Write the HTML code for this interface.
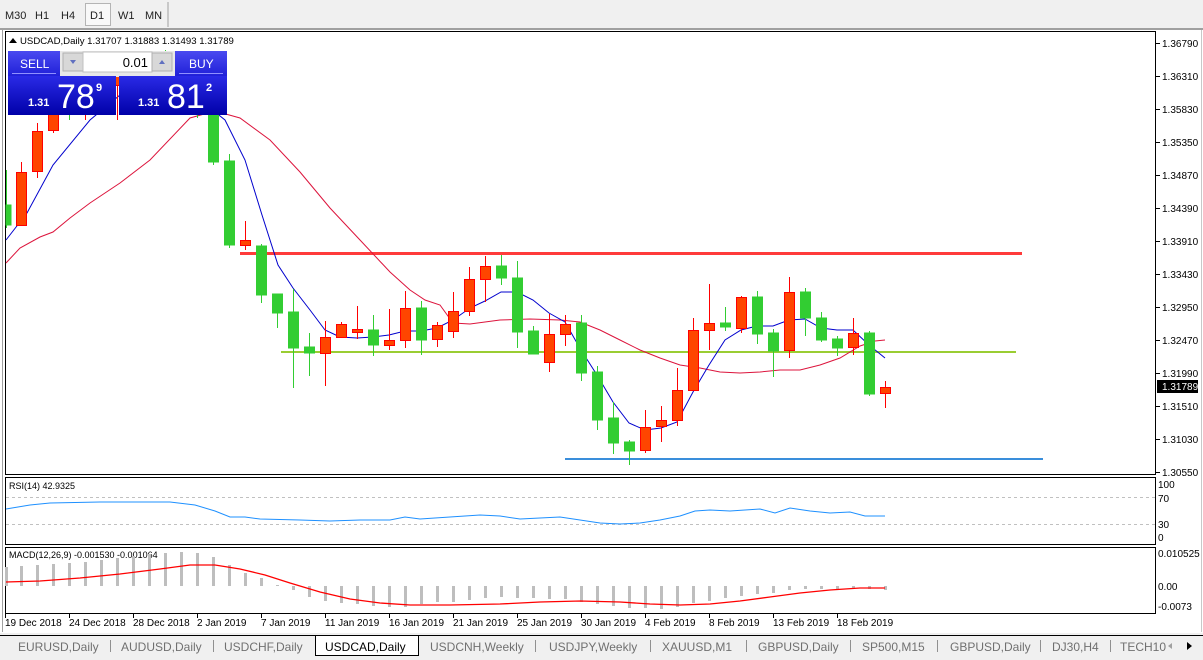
<!DOCTYPE html>
<html><head><meta charset="utf-8"><style>
body{margin:0;width:1203px;height:660px;overflow:hidden;background:#fff;font-family:"Liberation Sans",sans-serif;}
svg{position:absolute;left:0;top:0}
</style></head><body>
<svg width="1203" height="660" xmlns="http://www.w3.org/2000/svg" font-family="Liberation Sans, sans-serif">
<rect x="0" y="0" width="1203" height="660" fill="#fff"/>
<rect x="0" y="0" width="1203" height="29" fill="#F0F0F0"/>
<rect x="0" y="28" width="1203" height="2" fill="#A0A0A0"/>
<line x1="168" y1="2" x2="168" y2="27" stroke="#A0A0A0"/>
<rect x="85.5" y="3.5" width="25" height="22" fill="#F8F8F8" stroke="#B4B4B4"/>
<g font-size="11" fill="#222">
<text x="5" y="19">M30</text><text x="35" y="19">H1</text><text x="61" y="19">H4</text>
<text x="90" y="19">D1</text><text x="118" y="19">W1</text><text x="145" y="19">MN</text></g>
<line x1="1201.5" y1="30" x2="1201.5" y2="632" stroke="#C8C8C8"/>
<line x1="2.5" y1="30" x2="2.5" y2="632" stroke="#A0A0A0"/>
<rect x="5.5" y="31.5" width="1150" height="443" fill="#fff" stroke="#000"/>
<rect x="5.5" y="477.5" width="1150" height="67" fill="#fff" stroke="#000"/>
<rect x="5.5" y="547.5" width="1150" height="66" fill="#fff" stroke="#000"/>
<g font-size="10" fill="#000">
<text x="1162" y="47">1.36790</text><text x="1162" y="80">1.36310</text><text x="1162" y="113">1.35830</text>
<text x="1162" y="146">1.35350</text><text x="1162" y="179">1.34870</text><text x="1162" y="212">1.34390</text>
<text x="1162" y="245">1.33910</text><text x="1162" y="278">1.33430</text><text x="1162" y="311">1.32950</text>
<text x="1162" y="344">1.32470</text><text x="1162" y="377">1.31990</text><text x="1162" y="410">1.31510</text>
<text x="1162" y="443">1.31030</text><text x="1162" y="476">1.30550</text>
</g>
<g stroke="#000"><line x1="1156" y1="43.5" x2="1160" y2="43.5"/><line x1="1156" y1="76.5" x2="1160" y2="76.5"/><line x1="1156" y1="109.5" x2="1160" y2="109.5"/><line x1="1156" y1="142.5" x2="1160" y2="142.5"/><line x1="1156" y1="175.5" x2="1160" y2="175.5"/><line x1="1156" y1="208.5" x2="1160" y2="208.5"/><line x1="1156" y1="241.5" x2="1160" y2="241.5"/><line x1="1156" y1="274.5" x2="1160" y2="274.5"/><line x1="1156" y1="307.5" x2="1160" y2="307.5"/><line x1="1156" y1="340.5" x2="1160" y2="340.5"/><line x1="1156" y1="373.5" x2="1160" y2="373.5"/><line x1="1156" y1="406.5" x2="1160" y2="406.5"/><line x1="1156" y1="439.5" x2="1160" y2="439.5"/><line x1="1156" y1="472.5" x2="1160" y2="472.5"/></g>
<rect x="1157" y="380" width="41" height="13" fill="#000"/>
<text x="1162" y="390" font-size="10" fill="#fff">1.31789</text>
<g font-size="10" fill="#000">
<text x="1158" y="488">100</text><text x="1158" y="502">70</text><text x="1158" y="528">30</text><text x="1158" y="541">0</text>
<text x="1158" y="557">0.010525</text><text x="1158" y="590">0.00</text><text x="1158" y="610">-0.0073</text></g>
<line x1="240" y1="253.5" x2="1022" y2="253.5" stroke="#FF3B3B" stroke-width="3"/>
<line x1="281" y1="352" x2="1016" y2="352" stroke="#9ACD32" stroke-width="2"/>
<line x1="565" y1="459" x2="1043" y2="459" stroke="#3A8EDB" stroke-width="2"/>
<polyline fill="none" stroke="#DC143C" stroke-width="1" points="6,263 20,248 40,237 53,232 70,218 90,203 120,183 150,160 190,118 215,111 240,118 270,140 300,172 330,208 360,240 390,272 410,290 425,300 440,305 453,323 470,324 500,320 530,319 560,320 580,322 600,330 620,340 640,350 660,358 680,365 700,368 720,372 740,373 760,372 780,370 800,370 820,365 840,358 860,346 875,341 885,340"/>
<polyline fill="none" stroke="#0000CD" stroke-width="1" points="6,240 27,213 53,165 90,120 120,95 160,90 200,100 225,120 245,160 262,215 278,265 293,288 310,310 325,330 340,337 357,338 373,337 389,335 405,331 421,331 437,328 453,320 470,308 485,301 501,292 517,292 533,300 549,313 565,322 581,350 597,375 613,402 629,423 645,430 661,428 677,422 693,392 709,365 725,340 741,330 757,326 773,326 789,320 805,319 821,328 837,330 853,330 869,345 885,358"/>
<g>
<g stroke="#32CD32" fill="#32CD32">
<line x1="6.5" y1="170" x2="6.5" y2="228"/><rect x="6" y="205" width="5" height="20"/>
<line x1="69.5" y1="90" x2="69.5" y2="120"/><rect x="64.5" y="95" width="10" height="17"/>
<line x1="133.5" y1="60" x2="133.5" y2="90"/><rect x="128.5" y="65" width="10" height="15"/>
<line x1="165.5" y1="50" x2="165.5" y2="85"/><rect x="160.5" y="58" width="10" height="14"/>
<line x1="197.5" y1="55" x2="197.5" y2="118"/><rect x="192.5" y="62" width="10" height="33"/>
<line x1="213.5" y1="60" x2="213.5" y2="165"/><rect x="208.5" y="95" width="10" height="67"/>
<line x1="229.5" y1="154" x2="229.5" y2="248"/><rect x="224.5" y="161" width="10" height="84"/>
<line x1="261.5" y1="244" x2="261.5" y2="303"/><rect x="256.5" y="246" width="10" height="49"/>
<line x1="277.5" y1="294" x2="277.5" y2="328"/><rect x="272.5" y="294" width="10" height="19"/>
<line x1="293.5" y1="289" x2="293.5" y2="388"/><rect x="288.5" y="312" width="10" height="36"/>
<line x1="309.5" y1="333" x2="309.5" y2="376"/><rect x="304.5" y="347" width="10" height="6"/>
<line x1="373.5" y1="315" x2="373.5" y2="356"/><rect x="368.5" y="330" width="10" height="15"/>
<line x1="421.5" y1="301" x2="421.5" y2="355"/><rect x="416.5" y="308" width="10" height="32"/>
<line x1="501.5" y1="255" x2="501.5" y2="285"/><rect x="496.5" y="266" width="10" height="12"/>
<line x1="517.5" y1="261" x2="517.5" y2="348"/><rect x="512.5" y="278" width="10" height="54"/>
<line x1="533.5" y1="326" x2="533.5" y2="354"/><rect x="528.5" y="331" width="10" height="23"/>
<line x1="581.5" y1="315" x2="581.5" y2="381"/><rect x="576.5" y="323" width="10" height="50"/>
<line x1="597.5" y1="366" x2="597.5" y2="430"/><rect x="592.5" y="372" width="10" height="48"/>
<line x1="613.5" y1="402" x2="613.5" y2="454"/><rect x="608.5" y="418" width="10" height="25"/>
<line x1="629.5" y1="440" x2="629.5" y2="465"/><rect x="624.5" y="442" width="10" height="9"/>
<line x1="725.5" y1="307" x2="725.5" y2="331"/><rect x="720.5" y="323" width="10" height="4"/>
<line x1="757.5" y1="291" x2="757.5" y2="344"/><rect x="752.5" y="297" width="10" height="37"/>
<line x1="773.5" y1="329" x2="773.5" y2="377"/><rect x="768.5" y="333" width="10" height="18"/>
<line x1="805.5" y1="288" x2="805.5" y2="336"/><rect x="800.5" y="292" width="10" height="26"/>
<line x1="821.5" y1="312" x2="821.5" y2="342"/><rect x="816.5" y="318" width="10" height="22"/>
<line x1="837.5" y1="336" x2="837.5" y2="356"/><rect x="832.5" y="339" width="10" height="9"/>
<line x1="869.5" y1="331" x2="869.5" y2="396"/><rect x="864.5" y="333" width="10" height="61"/>
</g>
<g stroke="#FF0000" fill="#FF4500">
<line x1="21.5" y1="162" x2="21.5" y2="226"/><rect x="16.5" y="172.5" width="10" height="53"/>
<line x1="37.5" y1="123" x2="37.5" y2="178"/><rect x="32.5" y="131.5" width="10" height="40"/>
<line x1="53.5" y1="95" x2="53.5" y2="133"/><rect x="48.5" y="100.5" width="10" height="30"/>
<line x1="85.5" y1="80" x2="85.5" y2="120"/><rect x="80.5" y="85.5" width="10" height="13"/>
<line x1="101.5" y1="70" x2="101.5" y2="100"/><rect x="96.5" y="75.5" width="10" height="15"/>
<line x1="117.5" y1="65" x2="117.5" y2="120"/><rect x="112.5" y="70.5" width="10" height="15"/>
<line x1="149.5" y1="55" x2="149.5" y2="88"/><rect x="144.5" y="62.5" width="10" height="16"/>
<line x1="181.5" y1="52" x2="181.5" y2="90"/><rect x="176.5" y="60.5" width="10" height="15"/>
<line x1="245.5" y1="221" x2="245.5" y2="250"/><rect x="240.5" y="240.5" width="10" height="5"/>
<line x1="325.5" y1="321" x2="325.5" y2="386"/><rect x="320.5" y="337.5" width="10" height="16"/>
<line x1="341.5" y1="322" x2="341.5" y2="338"/><rect x="336.5" y="324.5" width="10" height="13"/>
<line x1="357.5" y1="306" x2="357.5" y2="339"/><rect x="352.5" y="329.5" width="10" height="3"/>
<line x1="389.5" y1="309" x2="389.5" y2="350"/><rect x="384.5" y="340.5" width="10" height="5"/>
<line x1="405.5" y1="291" x2="405.5" y2="348"/><rect x="400.5" y="308.5" width="10" height="32"/>
<line x1="437.5" y1="322" x2="437.5" y2="347"/><rect x="432.5" y="325.5" width="10" height="14"/>
<line x1="453.5" y1="292" x2="453.5" y2="338"/><rect x="448.5" y="311.5" width="10" height="20"/>
<line x1="469.5" y1="267" x2="469.5" y2="316"/><rect x="464.5" y="279.5" width="10" height="32"/>
<line x1="485.5" y1="256" x2="485.5" y2="302"/><rect x="480.5" y="266.5" width="10" height="13"/>
<line x1="549.5" y1="314" x2="549.5" y2="372"/><rect x="544.5" y="334.5" width="10" height="28"/>
<line x1="565.5" y1="315" x2="565.5" y2="346"/><rect x="560.5" y="324.5" width="10" height="10"/>
<line x1="645.5" y1="410" x2="645.5" y2="453"/><rect x="640.5" y="427.5" width="10" height="23"/>
<line x1="661.5" y1="406" x2="661.5" y2="442"/><rect x="656.5" y="420.5" width="10" height="6"/>
<line x1="677.5" y1="368" x2="677.5" y2="426"/><rect x="672.5" y="390.5" width="10" height="30"/>
<line x1="693.5" y1="318" x2="693.5" y2="391"/><rect x="688.5" y="330.5" width="10" height="60"/>
<line x1="709.5" y1="284" x2="709.5" y2="350"/><rect x="704.5" y="323.5" width="10" height="7"/>
<line x1="741.5" y1="296" x2="741.5" y2="333"/><rect x="736.5" y="297.5" width="10" height="31"/>
<line x1="789.5" y1="277" x2="789.5" y2="358"/><rect x="784.5" y="292.5" width="10" height="58"/>
<line x1="853.5" y1="318" x2="853.5" y2="355"/><rect x="848.5" y="333.5" width="10" height="14"/>
<line x1="885.5" y1="381" x2="885.5" y2="408"/><rect x="880.5" y="387.5" width="10" height="6"/>
</g></g>
<path d="M9 43 L13 38 L17 43 Z" fill="#000"/>
<text x="20" y="44" font-size="9.6" fill="#000">USDCAD,Daily  1.31707 1.31883 1.31493 1.31789</text>
<defs><linearGradient id="bl" x1="0" y1="0" x2="0" y2="1"><stop offset="0" stop-color="#2A2AE6"/><stop offset="1" stop-color="#0000A8"/></linearGradient>
<linearGradient id="bs" x1="0" y1="0" x2="0" y2="1"><stop offset="0" stop-color="#4A4AF0"/><stop offset="1" stop-color="#2020D8"/></linearGradient></defs>
<rect x="8" y="51" width="52" height="25" fill="url(#bs)"/>
<rect x="175" y="51" width="52" height="25" fill="url(#bs)"/>
<line x1="12" y1="73.5" x2="56" y2="73.5" stroke="#9090FF"/><line x1="179" y1="73.5" x2="223" y2="73.5" stroke="#9090FF"/>
<rect x="60" y="51" width="115" height="26" fill="#E8E8E8"/>
<rect x="63" y="53" width="20" height="18" fill="#D8D8D8" stroke="#B0B0B0"/>
<rect x="83" y="52" width="69" height="20" fill="#fff" stroke="#C0C0C0"/>
<rect x="152" y="53" width="20" height="18" fill="#D8D8D8" stroke="#B0B0B0"/>
<path d="M70 60 L76 60 L73 64 Z" fill="#6070C0"/><path d="M159 64 L165 64 L162 60 Z" fill="#6070C0"/>
<text x="148" y="67" font-size="13" fill="#000" text-anchor="end">0.01</text>
<text x="20" y="68" font-size="12" fill="#fff">SELL</text>
<text x="189" y="68" font-size="12" fill="#fff">BUY</text>
<rect x="8" y="76" width="108" height="39" fill="url(#bl)"/>
<rect x="119" y="76" width="108" height="39" fill="url(#bl)"/>
<text x="28" y="106" font-size="11" font-weight="bold" fill="#fff">1.31</text>
<text x="57" y="108" font-size="34" fill="#fff">78</text>
<text x="96" y="91" font-size="11" font-weight="bold" fill="#fff">9</text>
<text x="138" y="106" font-size="11" font-weight="bold" fill="#fff">1.31</text>
<text x="167" y="108" font-size="34" fill="#fff">81</text>
<text x="206" y="91" font-size="11" font-weight="bold" fill="#fff">2</text>
<line x1="6" y1="497.5" x2="1155" y2="497.5" stroke="#C0C0C0" stroke-dasharray="3,3"/>
<line x1="6" y1="524.5" x2="1155" y2="524.5" stroke="#C0C0C0" stroke-dasharray="3,3"/>
<text x="9" y="489" font-size="9" fill="#000">RSI(14) 42.9325</text>
<polyline fill="none" stroke="#1E90FF" points="6,509 30,505 50,503 100,502 170,502 195,505 215,511 230,517 245,517 260,519 300,520 330,521 360,520 390,520 405,517 420,519 450,517 480,515 500,516 520,519 540,518 560,517 580,520 600,523 620,524 640,523 660,520 680,516 695,511 710,510 730,511 745,510 760,509 775,513 790,508 810,511 830,513 850,512 865,516 885,516"/>
<text x="9" y="558" font-size="9" fill="#000">MACD(12,26,9) -0.001530 -0.001064</text>
<g stroke="#BEBEBE" stroke-width="3">
<line x1="6.5" y1="586" x2="6.5" y2="567"/><line x1="21.5" y1="586" x2="21.5" y2="566"/><line x1="37.5" y1="586" x2="37.5" y2="565"/><line x1="53.5" y1="586" x2="53.5" y2="564"/><line x1="69.5" y1="586" x2="69.5" y2="563"/><line x1="85.5" y1="586" x2="85.5" y2="562"/><line x1="101.5" y1="586" x2="101.5" y2="560"/><line x1="117.5" y1="586" x2="117.5" y2="558"/><line x1="133.5" y1="586" x2="133.5" y2="556"/><line x1="149.5" y1="586" x2="149.5" y2="554"/><line x1="165.5" y1="586" x2="165.5" y2="553"/><line x1="181.5" y1="586" x2="181.5" y2="552"/><line x1="197.5" y1="586" x2="197.5" y2="553"/><line x1="213.5" y1="586" x2="213.5" y2="557"/><line x1="229.5" y1="586" x2="229.5" y2="565"/><line x1="245.5" y1="586" x2="245.5" y2="573"/><line x1="261.5" y1="586" x2="261.5" y2="578"/><line x1="277.5" y1="586" x2="277.5" y2="585"/><line x1="293.5" y1="586" x2="293.5" y2="590"/><line x1="309.5" y1="586" x2="309.5" y2="597"/><line x1="325.5" y1="586" x2="325.5" y2="601"/><line x1="341.5" y1="586" x2="341.5" y2="603"/><line x1="357.5" y1="586" x2="357.5" y2="604"/><line x1="373.5" y1="586" x2="373.5" y2="606"/><line x1="389.5" y1="586" x2="389.5" y2="607"/><line x1="405.5" y1="586" x2="405.5" y2="607"/><line x1="421.5" y1="586" x2="421.5" y2="604"/><line x1="437.5" y1="586" x2="437.5" y2="602"/><line x1="453.5" y1="586" x2="453.5" y2="602"/><line x1="469.5" y1="586" x2="469.5" y2="600"/><line x1="485.5" y1="586" x2="485.5" y2="598"/><line x1="501.5" y1="586" x2="501.5" y2="597"/><line x1="517.5" y1="586" x2="517.5" y2="598"/><line x1="533.5" y1="586" x2="533.5" y2="598"/><line x1="549.5" y1="586" x2="549.5" y2="599"/><line x1="565.5" y1="586" x2="565.5" y2="599"/><line x1="581.5" y1="586" x2="581.5" y2="602"/><line x1="597.5" y1="586" x2="597.5" y2="604"/><line x1="613.5" y1="586" x2="613.5" y2="606"/><line x1="629.5" y1="586" x2="629.5" y2="608"/><line x1="645.5" y1="586" x2="645.5" y2="608"/><line x1="661.5" y1="586" x2="661.5" y2="609"/><line x1="677.5" y1="586" x2="677.5" y2="607"/><line x1="693.5" y1="586" x2="693.5" y2="603"/><line x1="709.5" y1="586" x2="709.5" y2="601"/><line x1="725.5" y1="586" x2="725.5" y2="598"/><line x1="741.5" y1="586" x2="741.5" y2="596"/><line x1="757.5" y1="586" x2="757.5" y2="594"/><line x1="773.5" y1="586" x2="773.5" y2="593"/><line x1="789.5" y1="586" x2="789.5" y2="590"/><line x1="805.5" y1="586" x2="805.5" y2="589"/><line x1="821.5" y1="586" x2="821.5" y2="589"/><line x1="837.5" y1="586" x2="837.5" y2="589"/><line x1="853.5" y1="586" x2="853.5" y2="589"/><line x1="869.5" y1="586" x2="869.5" y2="589"/><line x1="885.5" y1="586" x2="885.5" y2="590"/>
</g>
<polyline fill="none" stroke="#FF0000" stroke-width="1.3" points="6,582 40,581 80,578 120,574 160,569 190,565 215,565 240,569 265,575 290,583 320,592 350,599 380,603 410,605 450,605 500,604 540,602 580,601 620,602 650,604 680,605 710,604 740,601 770,597 800,593 830,590 860,588 885,588"/>
<g stroke="#000"><line x1="5.5" y1="614" x2="5.5" y2="618"/><line x1="69.5" y1="614" x2="69.5" y2="618"/><line x1="133.5" y1="614" x2="133.5" y2="618"/><line x1="197.5" y1="614" x2="197.5" y2="618"/><line x1="261.5" y1="614" x2="261.5" y2="618"/><line x1="325.5" y1="614" x2="325.5" y2="618"/><line x1="389.5" y1="614" x2="389.5" y2="618"/><line x1="453.5" y1="614" x2="453.5" y2="618"/><line x1="517.5" y1="614" x2="517.5" y2="618"/><line x1="581.5" y1="614" x2="581.5" y2="618"/><line x1="645.5" y1="614" x2="645.5" y2="618"/><line x1="709.5" y1="614" x2="709.5" y2="618"/><line x1="773.5" y1="614" x2="773.5" y2="618"/><line x1="837.5" y1="614" x2="837.5" y2="618"/></g>
<g font-size="10" fill="#000">
<text x="5" y="626">19 Dec 2018</text><text x="69" y="626">24 Dec 2018</text><text x="133" y="626">28 Dec 2018</text><text x="197" y="626">2 Jan 2019</text><text x="261" y="626">7 Jan 2019</text><text x="325" y="626">11 Jan 2019</text><text x="389" y="626">16 Jan 2019</text><text x="453" y="626">21 Jan 2019</text><text x="517" y="626">25 Jan 2019</text><text x="581" y="626">30 Jan 2019</text><text x="645" y="626">4 Feb 2019</text><text x="709" y="626">8 Feb 2019</text><text x="773" y="626">13 Feb 2019</text><text x="837" y="626">18 Feb 2019</text></g>
<rect x="0" y="633" width="1203" height="27" fill="#F0F0F0"/>
<line x1="0" y1="635.5" x2="1203" y2="635.5" stroke="#000"/>
<rect x="315.5" y="635.5" width="103" height="20" fill="#fff" stroke="#000"/>
<rect x="0" y="656" width="1203" height="4" fill="#F0F0F0"/>
<g stroke="#909090"><line x1="110.5" y1="640" x2="110.5" y2="652"/><line x1="213.5" y1="640" x2="213.5" y2="652"/><line x1="535.5" y1="640" x2="535.5" y2="652"/><line x1="650.5" y1="640" x2="650.5" y2="652"/><line x1="746.5" y1="640" x2="746.5" y2="652"/><line x1="850.5" y1="640" x2="850.5" y2="652"/><line x1="937.5" y1="640" x2="937.5" y2="652"/><line x1="1040.5" y1="640" x2="1040.5" y2="652"/><line x1="1110.5" y1="640" x2="1110.5" y2="652"/></g>
<g font-size="12" fill="#707070">
<text x="18" y="651">EURUSD,Daily</text><text x="121" y="651">AUDUSD,Daily</text><text x="224" y="651">USDCHF,Daily</text>
<text x="430" y="651">USDCNH,Weekly</text><text x="549" y="651">USDJPY,Weekly</text><text x="662" y="651">XAUUSD,M1</text>
<text x="758" y="651">GBPUSD,Daily</text><text x="862" y="651">SP500,M15</text><text x="950" y="651">GBPUSD,Daily</text>
<text x="1052" y="651">DJ30,H4</text><text x="1120" y="651">TECH10</text></g>
<text x="325" y="651" font-size="12" fill="#000">USDCAD,Daily</text>
<path d="M1172 643 L1168 646 L1172 649 Z" fill="#A0A0A0"/><path d="M1187 642 L1192 646 L1187 650 Z" fill="#000"/>
</svg>
</body></html>
